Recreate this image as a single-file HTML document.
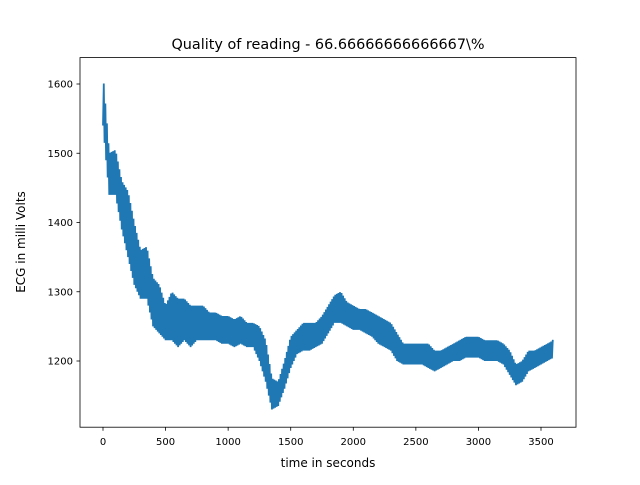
<!DOCTYPE html>
<html><head><meta charset="utf-8"><style>
body{margin:0;background:#fff;}
svg text{font-family:"DejaVu Sans","Liberation Sans",sans-serif;fill:#000;}
</style></head><body>
<svg id="chart" width="640" height="480" viewBox="0 0 640 480">
<rect x="0" y="0" width="640" height="480" fill="#fff"/>
<text x="328" y="49" font-size="14.4" text-anchor="middle">Quality of reading - 66.66666666666667\%</text>
<g id="plot"></g>
<g id="xticks"></g>
<g id="yticks"></g>
<rect x="80" y="57.6" width="496" height="369.6" fill="none" stroke="#000" stroke-width="0.8"/>
<text x="328" y="467" font-size="12" text-anchor="middle">time in seconds</text>
<text transform="translate(25,242) rotate(-90)" font-size="12" text-anchor="middle">ECG in milli Volts</text>
</svg>
<script>
const times=[0,50,100,150,200,250,300,350,400,450,500,550,600,650,700,750,800,850,900,950,1000,1050,1100,1150,1200,1250,1300,1350,1400,1450,1500,1550,1600,1650,1700,1750,1800,1850,1900,1950,2000,2050,2100,2150,2200,2250,2300,2350,2400,2450,2500,2550,2600,2650,2700,2750,2800,2850,2900,2950,3000,3050,3100,3150,3200,3250,3300,3350,3400,3450,3500,3550,3600];
const lows=[1540,1440,1440,1390,1350,1310,1290,1290,1250,1240,1230,1230,1220,1230,1220,1230,1230,1230,1230,1225,1225,1220,1225,1220,1220,1200,1170,1130,1135,1160,1190,1210,1215,1215,1220,1225,1240,1255,1255,1250,1245,1245,1240,1235,1225,1220,1215,1200,1195,1195,1195,1195,1190,1185,1190,1195,1200,1200,1205,1205,1205,1200,1200,1200,1195,1180,1165,1170,1185,1190,1195,1200,1205];
const highs=[1615,1500,1505,1460,1445,1400,1360,1365,1320,1310,1280,1300,1290,1290,1280,1280,1280,1270,1270,1265,1265,1260,1265,1255,1255,1250,1230,1175,1170,1200,1235,1245,1255,1255,1255,1265,1280,1295,1300,1285,1280,1275,1275,1270,1265,1260,1255,1240,1225,1225,1225,1225,1225,1215,1215,1220,1225,1230,1235,1235,1235,1230,1230,1230,1225,1215,1195,1200,1215,1215,1220,1225,1230];
const xTicks=[0,500,1000,1500,2000,2500,3000,3500];
const yTicks=[1200,1300,1400,1500,1600];
const NS="http://www.w3.org/2000/svg";
const X=v=>103+v*(438/3500);
const Y=v=>361-(v-1200)*0.6925;
const plot=document.getElementById('plot');
let pts=[];
for(let i=0;i<times.length-1;i++){
  const t0=times[i],t1=times[i+1];
  const n=8;
  for(let k=0;k<n;k++){
    const f=k/n;
    const lo=lows[i]+(lows[i+1]-lows[i])*f, hi=highs[i]+(highs[i+1]-highs[i])*f;
    const t=t0+(t1-t0)*f;
    pts.push(X(t).toFixed(2)+','+Y(k%2?hi:lo).toFixed(2));
  }
}
pts.push(X(times[times.length-1]).toFixed(2)+','+Y(highs[highs.length-1]).toFixed(2));
const pl=document.createElementNS(NS,'polyline');
pl.setAttribute('points',pts.join(' '));
pl.setAttribute('fill','none');pl.setAttribute('stroke','#1f77b4');pl.setAttribute('stroke-width','1.8');


plot.appendChild(pl);
const xg=document.getElementById('xticks');
xTicks.forEach(v=>{
  const l=document.createElementNS(NS,'line');
  l.setAttribute('x1',X(v));l.setAttribute('x2',X(v));l.setAttribute('y1',427.2);l.setAttribute('y2',430.7);l.setAttribute('stroke','#000');l.setAttribute('stroke-width','0.8');
  
  
  xg.appendChild(l);
  const t=document.createElementNS(NS,'text');
  t.setAttribute('x',X(v));t.setAttribute('y',445);t.setAttribute('font-size','10');t.setAttribute('text-anchor','middle');t.textContent=v;
  
  
  xg.appendChild(t);
});
const yg=document.getElementById('yticks');
yTicks.forEach(v=>{
  const l=document.createElementNS(NS,'line');
  l.setAttribute('x1',76.5);l.setAttribute('x2',80);l.setAttribute('y1',Y(v));l.setAttribute('y2',Y(v));l.setAttribute('stroke','#000');l.setAttribute('stroke-width','0.8');
  
  
  yg.appendChild(l);
  const t=document.createElementNS(NS,'text');
  t.setAttribute('x',73);t.setAttribute('y',Y(v)+3.6);t.setAttribute('font-size','10');t.setAttribute('text-anchor','end');t.textContent=v;
  
  
  yg.appendChild(t);
});
</script>
</body></html>
